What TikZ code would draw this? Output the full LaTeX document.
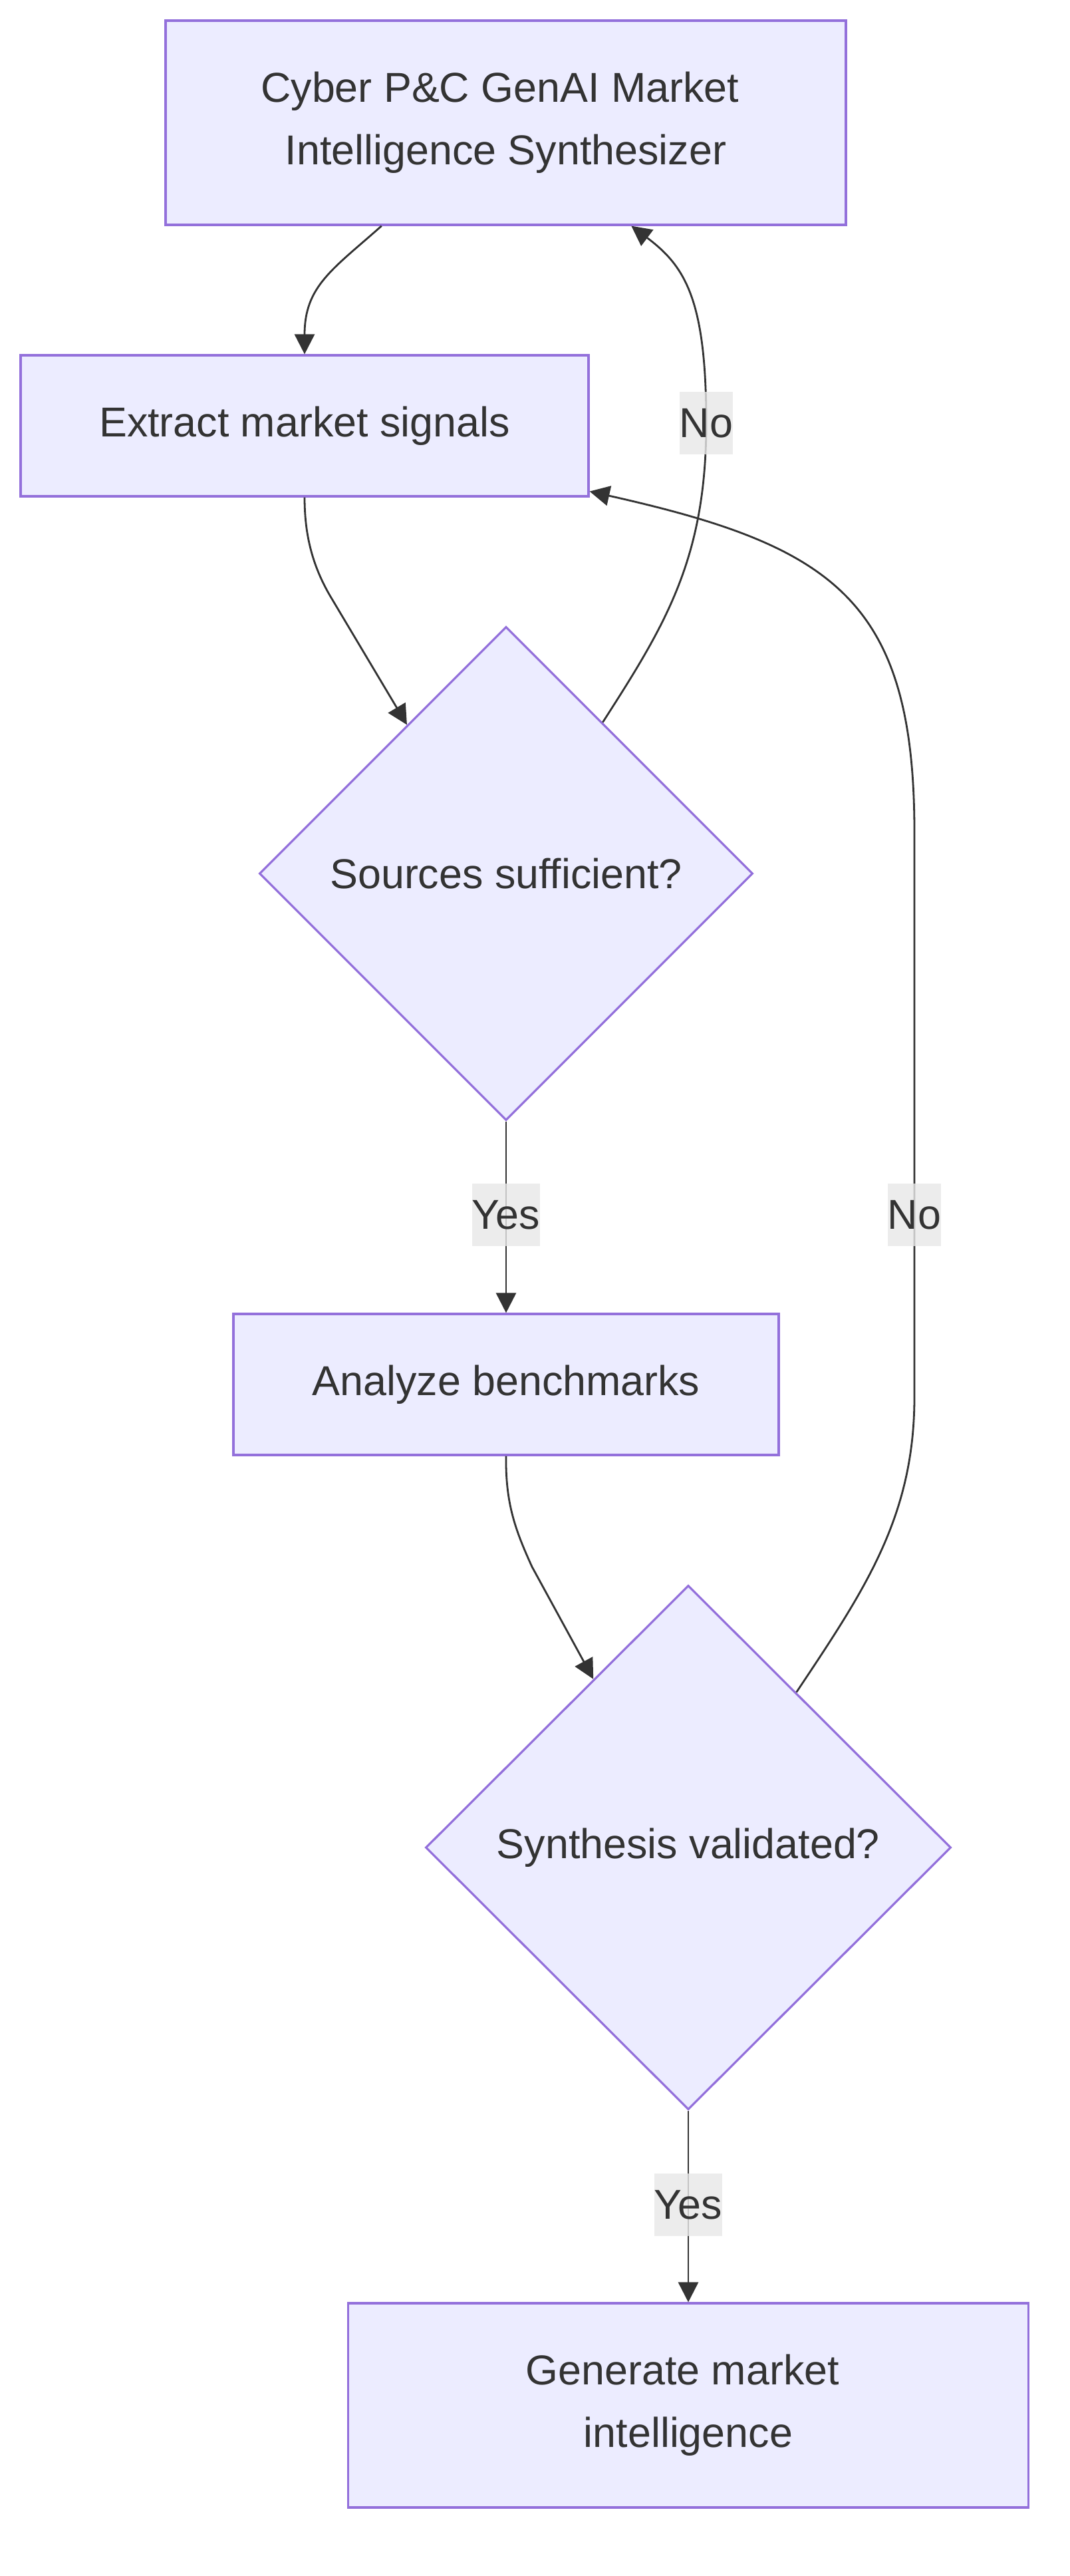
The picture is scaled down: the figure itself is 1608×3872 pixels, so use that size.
\documentclass[tikz,border=0pt]{standalone}
\usepackage{fontspec}
\setmainfont{Liberation Sans}
\usetikzlibrary{shapes.geometric,arrows.meta,calc}
\definecolor{nodefill}{HTML}{ECECFF}
\definecolor{nodeline}{HTML}{9370DB}
\definecolor{edgecol}{HTML}{333333}
\definecolor{lblbg}{HTML}{E8E8E8}
\begin{document}
\begin{tikzpicture}[x=0.5pt,y=-0.5pt,
 every node/.style={font=\fontsize{31.4pt}{47pt}\selectfont, text=edgecol},
 box/.style={draw=nodeline, fill=nodefill, line width=1.6pt, inner sep=0pt, align=center},
 decision/.style={diamond, aspect=1, draw=nodeline, fill=nodefill, line width=1.6pt, inner sep=0pt, align=center},
 edge/.style={draw=edgecol, line width=1.4pt, -{Triangle[length=15pt,width=15pt]}},
 lbl/.style={fill=lblbg, fill opacity=0.8, text opacity=1, inner sep=0pt, minimum height=47pt}
]
\useasboundingbox (0,0) rectangle (1608,3872);
\fill[white] (0,0) rectangle (1608,3872);

\node[box, minimum width=511.5pt, minimum height=153.5pt] (top) at (760.5,184.5) {Cyber P\&C GenAI Market\kern0.278em\\Intelligence Synthesizer};
\node[box, minimum width=427pt, minimum height=106pt] (ext) at (458,640) {Extract market signals};
\node[decision, minimum width=371pt, minimum height=371pt] (d1) at (761,1313) {Sources sufficient?};
\node[box, minimum width=410pt, minimum height=106pt] (an) at (761,2081) {Analyze benchmarks};
\node[decision, minimum width=395pt, minimum height=394pt] (d2) at (1035,2777) {Synthesis validated?};
\node[box, minimum width=511.5pt, minimum height=153.5pt] (gen) at (1035,3615.5) {Generate market\kern0.278em\\intelligence};

\draw[edge] ($(top.south west)!0.318!(top.south east)$) .. controls (500,405) and (458,430) .. (ext.north);
\draw[edge] (ext.south) .. controls (458,800) and (468,849) .. (499,900) -- ($(d1.north)!0.4!(d1.west)$);
\draw[edge] ($(d1.north)!0.39!(d1.east)$) .. controls (1000,940) and (1062,840) .. (1062,636) node[lbl] (no1) {No} .. controls (1062,450) and (1030,400) .. ($(top.south west)!0.684!(top.south east)$);
\draw[edge] (d1.south) -- (761,1826) node[lbl] (yes1) {Yes} -- (an.north);
\draw[edge] (an.south) .. controls (760,2260) and (775,2300) .. (800,2355) -- ($(d2.north)!0.36!(d2.west)$);
\draw[edge] ($(d2.north)!0.41!(d2.east)$) .. controls (1300,2390) and (1375,2280) .. (1375,2100) -- (1375,1826) node[lbl] (no2) {No} -- (1375,1250) .. controls (1375,900) and (1250,820) .. ($(ext.south east)+(0,-9)$);
\draw[edge] (d2.south) -- (1035,3314) node[lbl] (yes2) {Yes} -- (gen.north);
\end{tikzpicture}
\end{document}
